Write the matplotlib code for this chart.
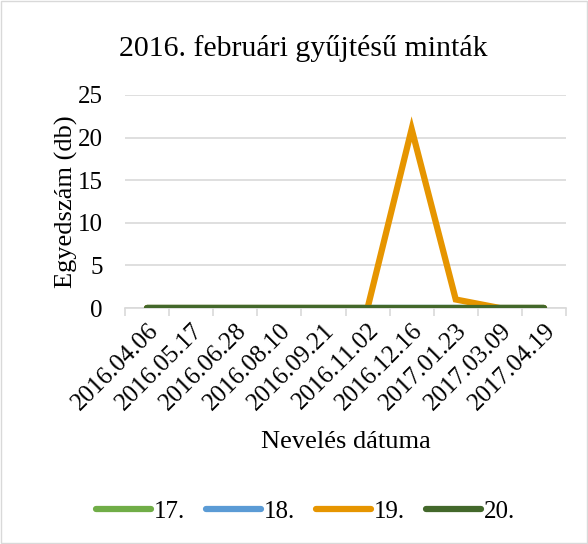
import matplotlib.pyplot as plt
from matplotlib.patches import Rectangle

dates = ["2016.04.06", "2016.05.17", "2016.06.28", "2016.08.10", "2016.09.21",
         "2016.11.02", "2016.12.16", "2017.01.23", "2017.03.09", "2017.04.19"]
s17 = [0, 0, 0, 0, 0, 0, 0, 0, 0, 0]
s18 = [0, 0, 0, 0, 0, 0, 0, 0, 0, 0]
s19 = [0, 0, 0, 0, 0, 0, 21, 1, 0, 0]
s20 = [0, 0, 0, 0, 0, 0, 0, 0, 0, 0]

series = [("17.", s17, "#70AD47"), ("18.", s18, "#5B9BD5"),
          ("19.", s19, "#E69500"), ("20.", s20, "#43682B")]

plt.rcParams["font.family"] = ["Liberation Serif", "DejaVu Serif"]

fig = plt.figure(figsize=(5.88, 5.44), dpi=100)
ax = fig.add_axes([0.2126, 0.4338, 0.75, 0.3916])

x = list(range(len(dates)))
lines = []
for name, vals, col in series:
    ln, = ax.plot(x, vals, color=col, lw=4.5, solid_capstyle="round",
                  solid_joinstyle="miter", label=name, zorder=3)
    lines.append(ln)

ax.set_xlim(-0.5, len(dates) - 0.5)
ax.set_ylim(0, 25)
ax.set_yticks(range(0, 26, 5))
ax.tick_params(axis="y", length=0, labelsize=18, pad=16)
ax.yaxis.grid(True, color="#D9D9D9", lw=1.2)
ax.set_axisbelow(True)

ax.set_xticks(x)
ax.set_xticklabels(dates, rotation=45, ha="right", rotation_mode="anchor",
                   fontsize=18)
ax.tick_params(axis="x", which="major", length=0, pad=8)
ax.set_xticks([i - 0.5 for i in range(len(dates) + 1)], minor=True)
ax.tick_params(axis="x", which="minor", length=6, color="#D9D9D9", width=1.2)

for s in ["top", "right", "left"]:
    ax.spines[s].set_visible(False)
ax.spines["bottom"].set_color("#D9D9D9")
ax.spines["bottom"].set_linewidth(1.2)

ax.set_ylabel("Egyedszám (db)", fontsize=19, labelpad=0)
ax.set_xlabel("Nevelés dátuma", fontsize=19, labelpad=12)
fig.text(0.515, 0.91, "2016. februári gyűjtésű minták", ha="center",
         va="center", fontsize=21.5)

fig.legend(handles=lines, loc="center", bbox_to_anchor=(0.52, 0.06),
           ncol=4, frameon=False, fontsize=18, handlelength=2.2,
           handletextpad=0.1, columnspacing=0.85)

fig.patches.append(Rectangle((0.002, 0.002), 0.996, 0.996, transform=fig.transFigure,
                             fill=False, edgecolor="#D9D9D9", lw=1))

fig.savefig("out.png", dpi=100)
